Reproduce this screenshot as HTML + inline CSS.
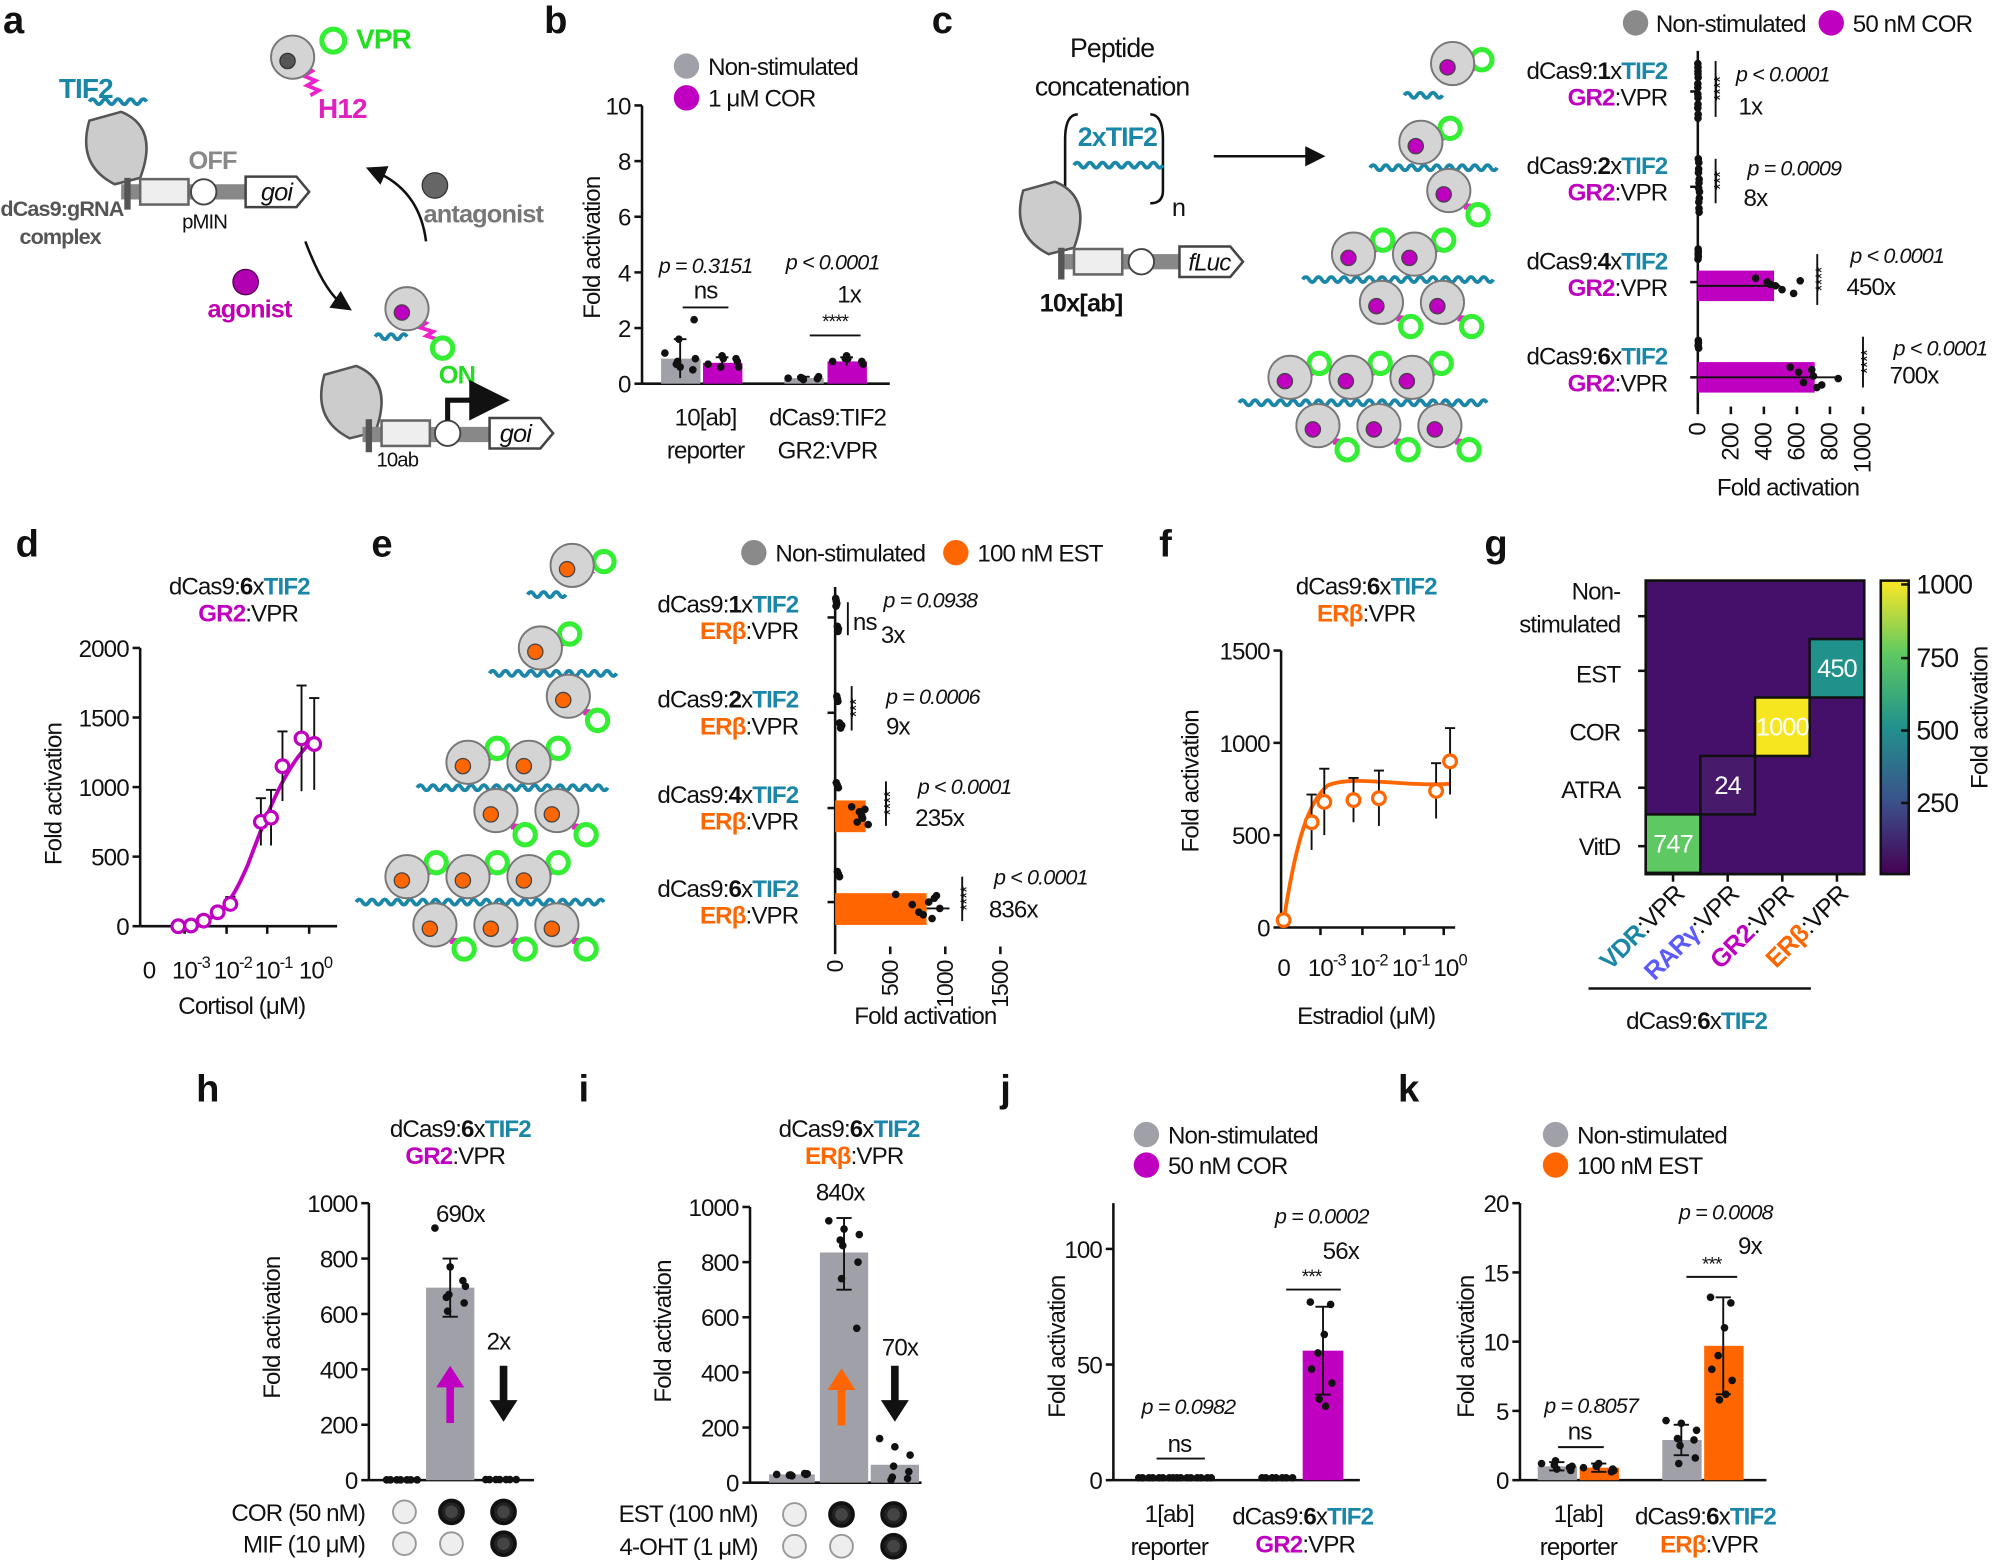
<!DOCTYPE html>
<html><head><meta charset="utf-8">
<style>
html,body{margin:0;padding:0;background:#fff;}
svg{display:block;}
text{font-family:"Liberation Sans",sans-serif;font-size:19px;fill:#111;letter-spacing:-0.7px;}
.b{font-weight:bold;font-size:30px;font-family:"Liberation Sans",sans-serif;letter-spacing:0;}
.ax{stroke:#111;stroke-width:2;fill:none;}
</style></head><body>
<svg id="s" width="1993" height="1564" viewBox="0 0 1568 1231" xmlns="http://www.w3.org/2000/svg">
<defs>
<linearGradient id="vir" x1="0" y1="1" x2="0" y2="0">
<stop offset="0" stop-color="#440154"/><stop offset="0.25" stop-color="#3b528b"/><stop offset="0.5" stop-color="#21918c"/><stop offset="0.75" stop-color="#5ec962"/><stop offset="1" stop-color="#fde725"/>
</linearGradient>
<marker id="ah" markerWidth="8" markerHeight="8" refX="4" refY="4" orient="auto"><path d="M0,0 L8,4 L0,8 z" fill="#111"/></marker>
</defs>

<text class="b" x="2" y="26">a</text><text class="b" x="428" y="26">b</text><text class="b" x="733" y="26">c</text>
<text class="b" x="12" y="438">d</text><text class="b" x="292" y="438">e</text><text class="b" x="912" y="438">f</text><text class="b" x="1168" y="438">g</text>
<text class="b" x="154" y="867">h</text><text class="b" x="455" y="867">i</text><text class="b" x="787" y="867">j</text><text class="b" x="1100" y="867">k</text>

<text x="46" y="77" style="font-weight:bold;fill:#1a87a8;font-size:22px">TIF2</text>
<text x="280" y="38" style="font-weight:bold;fill:#22dd22;font-size:22px">VPR</text>
<text x="250" y="93" style="font-weight:bold;fill:#e020c0;font-size:22px">H12</text>
<text x="148" y="133" style="font-weight:bold;fill:#888;font-size:20px">OFF</text>
<text x="0" y="170" style="font-weight:bold;fill:#555;font-size:17px">dCas9:gRNA</text>
<text x="15" y="192" style="font-weight:bold;fill:#555;font-size:17px">complex</text>
<text x="143" y="180" style="font-size:16px">pMIN</text>
<text x="333" y="175" style="font-weight:bold;fill:#777;font-size:20px">antagonist</text>
<text x="163" y="250" style="font-weight:bold;fill:#c000b0;font-size:20px">agonist</text>
<text x="345" y="302" style="font-weight:bold;fill:#22dd22;font-size:20px">ON</text>
<text x="296" y="367" style="font-size:16px">10ab</text>
<path d="M240,190 Q255,230 270,240" class="ax" marker-end="url(#ah)"/>
<path d="M335,190 Q330,150 295,135" class="ax" marker-end="url(#ah)"/>
<circle cx="342" cy="146" r="10" fill="#666" stroke="#333"/>
<circle cx="193" cy="222" r="10" fill="#b000b0" stroke="#500050"/>

<text x="875" y="45" text-anchor="middle" style="font-size:21px">Peptide</text>
<text x="875" y="75" text-anchor="middle" style="font-size:21px">concatenation</text>
<text x="848" y="115" style="font-weight:bold;fill:#1a87a8;font-size:21px">2xTIF2</text>
<path d="M848,90 Q838,90 838,110 L838,150 Q838,160 848,160" class="ax" stroke-width="1.5"/>
<path d="M905,90 Q915,90 915,110 L915,150 Q915,160 905,160" class="ax" stroke-width="1.5"/>
<text x="922" y="170" style="font-size:20px">n</text>
<text x="818" y="245" style="font-weight:bold;font-size:20px">10x[ab]</text>
<line x1="955" y1="123" x2="1035" y2="123" class="ax" stroke-width="3" marker-end="url(#ah)"/>

<g id="dyn"></g>
</svg>
<script>
const S=document.getElementById('dyn');
let H='';
const T=(x,y,t,st='',a='start')=>{H+=`<text x="${x}" y="${y}" text-anchor="${a}" style="${st}">${t}</text>`;};
const L=(x1,y1,x2,y2,w=2,c='#111')=>{H+=`<line x1="${x1}" y1="${y1}" x2="${x2}" y2="${y2}" stroke="${c}" stroke-width="${w}"/>`;};
const R=(x,y,w,h,f,s='none')=>{H+=`<rect x="${x}" y="${y}" width="${w}" height="${h}" fill="${f}" stroke="${s}" stroke-width="2"/>`;};
const C=(x,y,r,f,s='none',w=1.5)=>{H+=`<circle cx="${x}" cy="${y}" r="${r}" fill="${f}" stroke="${s}" stroke-width="${w}"/>`;};
const wave=(x1,x2,y,c='#1a87a8',amp=4,per=10)=>{let d=`M${x1},${y}`;for(let x=x1;x<x2;x+=per/2){d+=` Q${x+per/4},${y+((x-x1)/(per/2)%2?amp:-amp)} ${x+per/2},${y}`;}H+=`<path d="${d}" fill="none" stroke="${c}" stroke-width="3"/>`;};
const squig=(x1,y1,x2,y2,c='#ee22cc')=>{let d=`M${x1},${y1}`;const n=6;for(let i=1;i<=n;i++){const x=x1+(x2-x1)*i/n,y=y1+(y2-y1)*i/n;d+=` L${x+(i%2?4:-4)},${y}`;}H+=`<path d="${d}" fill="none" stroke="${c}" stroke-width="3"/>`;};
const ball=(x,y,dot,ringdx=22,ringdy=28)=>{squig(x+8,y+8,x+ringdx,y+ringdy);C(x+ringdx+3,y+ringdy+3,8,'#fff','#33ee33',4);C(x,y,17,'#d4d4d4','#777',1.5);C(x-4,y+3,6,dot,'#444',1);};
const dots=(cx,y0,vals,sc,spread=12)=>{vals.forEach((v,i)=>{C(cx+((i*37)%(2*spread+1))-spread,y0-v*sc,3,'#111');});};
const hdots=(x0,cy,vals,sc,spread=8)=>{vals.forEach((v,i)=>{C(x0+v*sc,cy+((i*29)%(2*spread+1))-spread,3,'#111');});};
const TT='#1a87a8',MG='#c000c0',OR='#ff6600',GR='#a0a0a8';
const SUP=t=>`10<tspan dy="-8" style="font-size:13px">${t}</tspan>`;

/* panel a */
wave(70,115,80);
squig(240,52,248,75);C(262,32,9,'#fff','#33ee33',4);C(230,45,17,'#d4d4d4','#777',1.5);C(226,48,6,'#555','#333',1);
H+=`<path d="M70,95 Q60,130 90,145 L110,140 Q125,100 95,88 Z" fill="#ccc" stroke="#555" stroke-width="2"/>`;
R(95,145,140,12,'#888');R(110,141,38,20,'#eee','#666');C(160,151,10,'#fff','#444');
H+=`<path d="M193,139 h40 l10,12 l-10,12 h-40 z" fill="#fff" stroke="#444" stroke-width="2"/>`;T(205,158,'goi','font-style:italic;font-size:20px');
L(100,140,100,165,5,'#555');
ball(320,243,MG,25,28);wave(295,320,265);
H+=`<path d="M255,295 Q245,330 275,345 L295,340 Q310,300 280,288 Z" fill="#ccc" stroke="#555" stroke-width="2"/>`;
R(285,336,145,12,'#888');R(300,331,38,20,'#eee','#666');C(352,341,10,'#fff','#444');L(290,330,290,356,5,'#555');
H+=`<path d="M385,329 h40 l10,12 l-10,12 h-40 z" fill="#fff" stroke="#444" stroke-width="2"/>`;T(393,348,'goi','font-style:italic;font-size:20px');
H+=`<path d="M352,331 V315 H385" fill="none" stroke="#111" stroke-width="4" marker-end="url(#ah)"/>`;

/* panel b */
{const x0=505,y0=302,s=21.9;L(x0,83,x0,y0);L(x0,y0,700,y0);
for(let v=0;v<=10;v+=2){L(x0-6,y0-v*s,x0,y0-v*s);T(x0-9,y0-v*s+7,v,'','end');}
H+=`<text transform="translate(472,195) rotate(-90)" text-anchor="middle">Fold activation</text>`;
const bar=(x,v,c,e)=>{R(x,y0-v*s,31,v*s,c);L(x+15,y0-(v+e)*s,x+15,y0-(v-e)*s,1.5);L(x+10,y0-(v+e)*s,x+20,y0-(v+e)*s,1.5);};
bar(520,0.9,GR,0.7);bar(553,0.75,MG,0.2);bar(617,0.2,GR,0.05);bar(651,0.8,MG,0.15);
dots(535,y0,[1.1,0.6,0.9,1.6,2.3,0.8,0.5,0.7],s);dots(569,y0,[0.7,0.9,0.6,1.0,0.8,0.6,0.9],s);
dots(632,y0,[0.2,0.15,0.25,0.2,0.18,0.22],s);dots(667,y0,[0.8,0.9,0.7,1.0,0.8,0.9],s);
C(540,52,10,GR);T(557,59,'Non-stimulated');C(540,77,10,MG);T(557,84,'1 μM COR');
T(555,215,'p = 0.3151','font-style:italic;font-size:17px','middle');T(655,212,'p &lt; 0.0001','font-style:italic;font-size:17px','middle');
T(555,235,'ns','','middle');L(537,242,573,242,1.5);T(668,238,'1x','','middle');T(657,258,'****','font-size:15px','middle');L(637,264,677,264,1.5);
T(555,335,'10[ab]','','middle');T(555,361,'reporter','','middle');T(651,335,'dCas9:TIF2','','middle');T(651,361,'GR2:VPR','','middle');}

/* clusters */
const cluster=(x,y,n,dot)=>{const k=n/2;
 wave(x-40,x+k*48+10,y+20);
 for(let i=0;i<k;i++){ball(x+i*48,y,dot,20,-14);ball(x+22+i*48,y+38,dot,20,16);}
};
wave(1105,1135,75);ball(1143,50,MG,20,-6);
cluster(1118,112,2,MG);cluster(1065,200,4,MG);cluster(1015,297,6,MG);
H+=`<path d="M805,150 Q795,185 825,200 L845,195 Q860,155 830,143 Z" fill="#ccc" stroke="#555" stroke-width="2"/>`;
R(835,200,135,12,'#888');R(845,196,38,20,'#eee','#666');C(898,206,10,'#fff','#444');L(835,195,835,220,5,'#555');
H+=`<path d="M928,194 h40 l10,12 l-10,12 h-40 z" fill="#fff" stroke="#444" stroke-width="2"/>`;T(935,213,'fLuc','font-style:italic;font-size:19px');
wave(845,912,130);

/* panel c chart */
{const x0=1336,s=0.13;L(x0,40,x0,320);
for(let v=0;v<=1000;v+=200){L(x0+v*s,320,x0+v*s,326);H+=`<text transform="translate(${x0+v*s+6},333) rotate(-90)" text-anchor="end">${v}</text>`;}
T(1407,390,'Fold activation','','middle');
const ys=[72,147,222,297];
ys.forEach((y,i)=>{T(1312,y-10,`dCas9:<tspan style="font-weight:bold">${[1,2,4,6][i]}</tspan>x<tspan style="fill:${TT};font-weight:bold">TIF2</tspan>`,'','end');
T(1312,y+11,`<tspan style="fill:${MG};font-weight:bold">GR2</tspan>:VPR`,'','end');L(x0-6,y,x0,y);});
R(x0,213,60,24,MG);R(x0,285,92,24,MG);
L(x0,225,x0+65,225,1.5);L(x0,297,x0+110,297,1.5);
hdots(x0,60,[0,1,0,1,2,0,1],s,10);hdots(x0,84,[0,1,2,1,0,1],s,10);hdots(x0,135,[3,5,8,6,4,7],s,10);hdots(x0,158,[5,9,7,10,6,8],s,10);
hdots(x0,200,[2,3,2,3,1],s,4);hdots(x0,225,[350,420,470,510,580,620,440],s,6);hdots(x0,272,[3,4,2,5],s,4);hdots(x0,297,[560,640,700,690,750,850,610,720],s,8);
const st=(x,y1,y2,t)=>{L(x,y1,x,y2,1.5);H+=`<text transform="translate(${x+8},${(y1+y2)/2}) rotate(-90)" text-anchor="middle" style="font-size:14px">${t}</text>`;};
st(1350,48,92,'****');st(1350,125,160,'***');st(1430,200,240,'****');st(1466,265,305,'****');
T(1366,64,'p &lt; 0.0001','font-style:italic;font-size:17px');T(1368,90,'1x');
T(1375,138,'p = 0.0009','font-style:italic;font-size:17px');T(1372,162,'8x');
T(1456,207,'p &lt; 0.0001','font-style:italic;font-size:17px');T(1453,232,'450x');
T(1490,280,'p &lt; 0.0001','font-style:italic;font-size:17px');T(1487,302,'700x');
C(1287,18,10,'#8a8a8a');T(1303,25,'Non-stimulated');C(1441,18,10,MG);T(1458,25,'50 nM COR');}

/* panel d */
{const x0=110,y0=729,s=0.1095;L(x0,510,x0,y0);L(x0,y0,265,y0);
for(let v=0;v<=2000;v+=500){L(x0-6,y0-v*s,x0,y0-v*s);T(x0-9,y0-v*s+7,v,'','end');}
[[117,'0'],[150,SUP('-3')],[183,SUP('-2')],[215,SUP('-1')],[248,SUP('0')]].forEach(([x,t],i)=>{T(x,770,t,'','middle');if(i)L(x-5,y0,x-5,y0+6);});
H+=`<text transform="translate(48,625) rotate(-90)" text-anchor="middle">Fold activation</text>`;
T(190,798,'Cortisol (μM)','','middle');
T(188,468,`dCas9:<tspan style="font-weight:bold">6</tspan>x<tspan style="fill:${TT};font-weight:bold">TIF2</tspan>`,'','middle');
T(195,489,`<tspan style="fill:${MG};font-weight:bold">GR2</tspan>:VPR`,'','middle');
H+=`<path d="M140,729 C170,727 180,715 195,680 C210,640 225,600 247,582" fill="none" stroke="${MG}" stroke-width="3"/>`;
[[140,0,0],[150,5,0],[160,40,0],[171,100,30],[181,160,50],[205,750,170],[213,780,200],[222,1150,250],[237,1350,380],[247,1310,330]].forEach(([x,v,e])=>{if(e){L(x,y0-(v+e)*s,x,y0-(v-e)*s,1.5);L(x-4,y0-(v+e)*s,x+4,y0-(v+e)*s,1.5);}C(x,y0-v*s,5,'#fff',MG,2.5);});}

/* panel e */
wave(415,445,468);ball(450,445,OR,22,-6);
cluster(425,510,2,OR);cluster(368,600,4,OR);cluster(320,690,6,OR);
{const x0=657,s=0.0867;L(x0,462,x0,745);
for(let v=0;v<=1500;v+=500){L(x0+v*s,745,x0+v*s,751);H+=`<text transform="translate(${x0+v*s+6},756) rotate(-90)" text-anchor="end" style="font-size:18px">${v}</text>`;}
T(728,806,'Fold activation','','middle');
const ys=[486,561,636,710];[1,2,4,6].forEach((n,i)=>{const y=ys[i];
T(628,y-4,`dCas9:<tspan style="font-weight:bold">${n}</tspan>x<tspan style="fill:${TT};font-weight:bold">TIF2</tspan>`,'','end');
T(628,y+17,`<tspan style="fill:${OR};font-weight:bold">ERβ</tspan>:VPR`,'','end');L(x0-6,y,x0,y);});
R(x0,630,24,25,OR);R(x0,703,72,25,OR);L(x0+72,715,x0+90,715,1.5);
hdots(x0,475,[5,10,15,8],s,4);hdots(x0,497,[20,30,25],s,4);hdots(x0,552,[15,20,25],s,4);hdots(x0,573,[40,60,50],s,4);
hdots(x0,620,[10,20,30],s,4);hdots(x0,643,[150,200,240,270,300,250,220],s,8);hdots(x0,690,[20,30,40],s,4);hdots(x0,714,[550,700,800,900,950,880,850,760,920],s,10);
const st=(x,y1,y2,t)=>{L(x,y1,x,y2,1.5);H+=`<text transform="translate(${x+8},${(y1+y2)/2}) rotate(-90)" text-anchor="middle" style="font-size:14px">${t}</text>`;};
L(667,474,667,500,1.5);T(671,496,'ns');st(670,540,575,'***');st(697,615,650,'****');st(757,690,725,'****');
T(695,478,'p = 0.0938','font-style:italic;font-size:17px');T(693,506,'3x');
T(697,554,'p = 0.0006','font-style:italic;font-size:17px');T(697,578,'9x');
T(722,625,'p &lt; 0.0001','font-style:italic;font-size:17px');T(720,650,'235x');
T(782,696,'p &lt; 0.0001','font-style:italic;font-size:17px');T(778,722,'836x');
C(593,435,10,'#8a8a8a');T(610,442,'Non-stimulated');C(752,435,10,OR);T(769,442,'100 nM EST');}

/* panel f */
{const x0=1008,y0=730,s=0.1453;L(x0,512,x0,y0);L(x0,y0,1145,y0);
for(let v=0;v<=1500;v+=500){L(x0-6,y0-v*s,x0,y0-v*s);T(x0-9,y0-v*s+7,v,'','end');}
[[1010,'0'],[1044,SUP('-3')],[1077,SUP('-2')],[1110,SUP('-1')],[1141,SUP('0')]].forEach(([x,t],i)=>{T(x,768,t,'','middle');if(i)L(x-5,y0,x-5,y0+6);});
H+=`<text transform="translate(943,615) rotate(-90)" text-anchor="middle">Fold activation</text>`;
T(1075,806,'Estradiol (μM)','','middle');
T(1075,468,`dCas9:<tspan style="font-weight:bold">6</tspan>x<tspan style="fill:${TT};font-weight:bold">TIF2</tspan>`,'','middle');
T(1075,489,`<tspan style="fill:${OR};font-weight:bold">ERβ</tspan>:VPR`,'','middle');
H+=`<path d="M1010,725 C1020,660 1030,630 1045,618 C1065,610 1100,619 1141,617" fill="none" stroke="${OR}" stroke-width="3"/>`;
[[1010,40,0],[1032,570,150],[1042,680,180],[1065,690,120],[1085,700,150],[1130,740,150],[1141,900,180]].forEach(([x,v,e])=>{if(e){L(x,y0-(v+e)*s,x,y0-(v-e)*s,1.5);L(x-4,y0-(v+e)*s,x+4,y0-(v+e)*s,1.5);}C(x,y0-v*s,5,'#fff',OR,2.5);});}

/* panel g */
{const x0=1295,y0=457,cw=43,rh=46;R(x0,y0,172,231,'#45106a','#111');
[[3,1,'#21918c','450'],[2,2,'#f6e620','1000'],[1,3,'#481a6c','24'],[0,4,'#5ec962','747']].forEach(([c,r,f,t])=>{R(x0+c*cw,y0+r*rh,cw,rh,f,'#111');T(x0+c*cw+cw/2,y0+r*rh+30,t,`fill:#fff;font-size:20px`,'middle');});
R(x0,y0,172,231,'none','#111');
R(1480,457,22,231,'url(#vir)','#111');
[[1000,460],[750,518],[500,575],[250,632]].forEach(([v,y])=>{L(1496,y,1502,y);T(1508,y+7,v,'font-size:21px');});
H+=`<text transform="translate(1564,565) rotate(-90)" text-anchor="middle">Fold activation</text>`;
[['Non-',472],['stimulated',498],['EST',537],['COR',583],['ATRA',628],['VitD',673]].forEach(([t,y])=>T(1275,y,t,'','end'));
[485,528,575,620,666].forEach(y=>L(x0-6,y,x0,y));
[['VDR',TT],['RARγ','#5a5aff'],['GR2',MG],['ERβ',OR]].forEach(([t,c],i)=>{const x=x0+i*cw+cw/2;L(x,688,x,694);
H+=`<text transform="translate(${x+10},705) rotate(-45)" text-anchor="end" style="font-size:20px"><tspan style="fill:${c};font-weight:bold">${t}</tspan>:VPR</text>`;});
L(1250,778,1425,778);T(1335,810,`dCas9:<tspan style="font-weight:bold">6</tspan>x<tspan style="fill:${TT};font-weight:bold">TIF2</tspan>`,'','middle');}

/* panels h / i */
const circ=(x,y,on)=>{C(x,y,9,on?'#222':'#eee',on?'#111':'#999',on?3:1.5);if(on)C(x,y,5,'#444');};
{const x0=290,y0=1165,s=0.218;L(x0,947,x0,y0);L(x0,y0,420,y0);
for(let v=0;v<=1000;v+=200){L(x0-6,y0-v*s,x0,y0-v*s);T(x0-9,y0-v*s+7,v,'','end');}
H+=`<text transform="translate(220,1045) rotate(-90)" text-anchor="middle">Fold activation</text>`;
R(335,y0-695*s,38,695*s,GR);L(354,y0-800*s,354,y0-590*s,1.5);L(348,y0-800*s,360,y0-800*s,1.5);L(348,y0-590*s,360,y0-590*s,1.5);
dots(318,y0,[1,1,1,1,1,1,1],s,14);dots(354,y0,[910,770,700,670,640,610,720,660],s,12);dots(396,y0,[2,2,2,2,2,2,2],s,14);
T(362,962,'690x','','middle');T(392,1062,'2x','','middle');
H+=`<path d="M354,1120 V1090" stroke="${MG}" stroke-width="6"/><path d="M343,1092 L354,1075 L365,1092 Z" fill="${MG}"/>`;
H+=`<path d="M396,1075 V1105" stroke="#111" stroke-width="6"/><path d="M385,1102 L396,1119 L407,1102 Z" fill="#111"/>`;
T(362,895,`dCas9:<tspan style="font-weight:bold">6</tspan>x<tspan style="fill:${TT};font-weight:bold">TIF2</tspan>`,'','middle');
T(358,916,`<tspan style="fill:${MG};font-weight:bold">GR2</tspan>:VPR`,'','middle');
T(287,1197,'COR (50 nM)','','end');T(287,1222,'MIF (10 μM)','','end');
circ(318,1190,0);circ(355,1190,1);circ(396,1190,1);circ(318,1215,0);circ(355,1215,0);circ(396,1215,1);}
{const x0=590,y0=1167,s=0.217;L(x0,950,x0,y0);L(x0,y0,725,y0);
for(let v=0;v<=1000;v+=200){L(x0-6,y0-v*s,x0,y0-v*s);T(x0-9,y0-v*s+7,v,'','end');}
H+=`<text transform="translate(528,1048) rotate(-90)" text-anchor="middle">Fold activation</text>`;
R(605,y0-30*s,36,30*s,GR);R(645,y0-835*s,38,835*s,GR);R(685,y0-65*s,38,65*s,GR);
L(664,y0-960*s,664,y0-700*s,1.5);L(658,y0-960*s,670,y0-960*s,1.5);L(658,y0-700*s,670,y0-700*s,1.5);
dots(623,y0,[30,25,32,28,30,27,33],s,12);dots(664,y0,[950,920,900,860,800,740,560,880],s,12);dots(704,y0,[160,130,100,60,40,20,15,10],s,12);
T(661,945,'840x','','middle');T(708,1067,'70x','','middle');
H+=`<path d="M662,1122 V1092" stroke="${OR}" stroke-width="6"/><path d="M651,1094 L662,1077 L673,1094 Z" fill="${OR}"/>`;
H+=`<path d="M704,1075 V1105" stroke="#111" stroke-width="6"/><path d="M693,1102 L704,1119 L715,1102 Z" fill="#111"/>`;
T(668,895,`dCas9:<tspan style="font-weight:bold">6</tspan>x<tspan style="fill:${TT};font-weight:bold">TIF2</tspan>`,'','middle');
T(672,916,`<tspan style="fill:${OR};font-weight:bold">ERβ</tspan>:VPR`,'','middle');
T(596,1198,'EST (100 nM)','','end');T(596,1224,'4-OHT (1 μM)','','end');
circ(625,1192,0);circ(662,1192,1);circ(703,1192,1);circ(625,1217,0);circ(662,1217,0);circ(703,1217,1);}

/* panel j */
{const x0=876,y0=1165,s=1.82;L(x0,947,x0,y0);L(x0,y0,1070,y0);
[0,50,100].forEach(v=>{L(x0-6,y0-v*s,x0,y0-v*s);T(x0-9,y0-v*s+7,v,'','end');});
H+=`<text transform="translate(838,1060) rotate(-90)" text-anchor="middle">Fold activation</text>`;
R(1025,y0-56*s,32,56*s,MG);L(1041,y0-75*s,1041,y0-37*s,1.5);L(1035,y0-75*s,1047,y0-75*s,1.5);L(1035,y0-37*s,1047,y0-37*s,1.5);
dots(910,y0,[1,1,1,1,1,1,1,1],s,14);dots(940,y0,[1,1,1,1,1,1,1,1],s,14);dots(1007,y0,[1,1,1,1,1,1,1],s,14);
dots(1041,y0,[77,76,63,55,48,42,32,35],s,10);
C(902,893,10,GR);T(919,900,'Non-stimulated');C(902,917,10,MG);T(919,924,'50 nM COR');
T(935,1113,'p = 0.0982','font-style:italic;font-size:17px','middle');T(928,1143,'ns','','middle');L(910,1148,948,1148,1.5);
T(1040,963,'p = 0.0002','font-style:italic;font-size:17px','middle');T(1055,991,'56x','','middle');T(1032,1010,'***','font-size:15px','middle');L(1012,1015,1055,1015,1.5);
T(920,1198,'1[ab]','','middle');T(920,1224,'reporter','','middle');
T(1025,1200,`dCas9:<tspan style="font-weight:bold">6</tspan>x<tspan style="fill:${TT};font-weight:bold">TIF2</tspan>`,'','middle');
T(1027,1222,`<tspan style="fill:${MG};font-weight:bold">GR2</tspan>:VPR`,'','middle');}

/* panel k */
{const x0=1196,y0=1165,s=10.9;L(x0,947,x0,y0);L(x0,y0,1390,y0);
for(let v=0;v<=20;v+=5){L(x0-6,y0-v*s,x0,y0-v*s);T(x0-9,y0-v*s+7,v,'','end');}
H+=`<text transform="translate(1160,1060) rotate(-90)" text-anchor="middle">Fold activation</text>`;
const bar=(x,v,c,e)=>{R(x,y0-v*s,31,v*s,c);L(x+15,y0-(v+e)*s,x+15,y0-(v-e)*s,1.5);L(x+9,y0-(v+e)*s,x+21,y0-(v+e)*s,1.5);L(x+9,y0-(v-e)*s,x+21,y0-(v-e)*s,1.5);};
bar(1210,1.0,GR,0.3);bar(1243,0.9,OR,0.3);bar(1308,2.9,GR,1.1);bar(1341,9.7,OR,3.5);
dots(1225,y0,[1.2,0.8,1.0,1.4,0.7,1.1,0.9],s,12);dots(1258,y0,[0.9,1.2,0.7,1.1,0.8,1.0,0.6],s,12);
dots(1323,y0,[4.3,4.1,3.6,2.5,1.6,1.2,2.9,3.0],s,12);dots(1356,y0,[13.2,12.8,11.0,9.0,8.0,7.2,6.2,5.8],s,10);
C(1224,893,10,GR);T(1241,900,'Non-stimulated');C(1224,917,10,OR);T(1241,924,'100 nM EST');
T(1252,1112,'p = 0.8057','font-style:italic;font-size:17px','middle');T(1243,1133,'ns','','middle');L(1226,1139,1262,1139,1.5);
T(1358,960,'p = 0.0008','font-style:italic;font-size:17px','middle');T(1377,987,'9x','','middle');T(1347,1000,'***','font-size:15px','middle');L(1327,1005,1367,1005,1.5);
T(1242,1198,'1[ab]','','middle');T(1242,1224,'reporter','','middle');
T(1342,1200,`dCas9:<tspan style="font-weight:bold">6</tspan>x<tspan style="fill:${TT};font-weight:bold">TIF2</tspan>`,'','middle');
T(1345,1222,`<tspan style="fill:${OR};font-weight:bold">ERβ</tspan>:VPR`,'','middle');}

S.innerHTML=H;
</script>
</body></html>
